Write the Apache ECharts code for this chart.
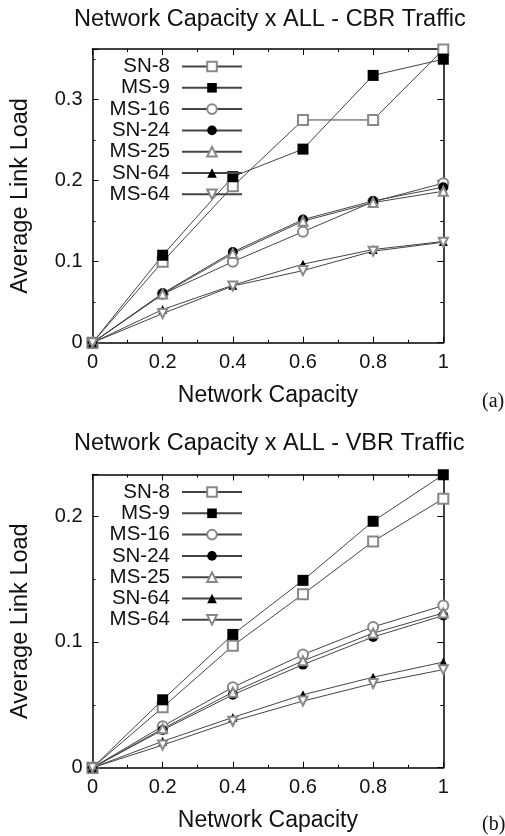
<!DOCTYPE html>
<html>
<head>
<meta charset="utf-8">
<script src="https://cdn.jsdelivr.net/npm/echarts@6/dist/echarts.min.js"></script>
<style>
  html, body { margin: 0; padding: 0; background: #fff; }
  #chart { width: 505px; height: 836px; }
</style>
</head>
<body>
<div id="chart"></div>
<script>
// network capacity (x)
const capacity = [0, 0.2, 0.4, 0.6, 0.8, 1]
const seriesNames = ['SN-8', 'MS-9', 'MS-16', 'SN-24', 'MS-25', 'SN-64', 'MS-64']

// (a) CBR traffic, average link load
const cbrSN8 = [0, 0.100, 0.193, 0.275, 0.275, 0.362]
const cbrMS9 = [0, 0.108, 0.205, 0.239, 0.330, 0.350]
const cbrMS16 = [0, 0.060, 0.100, 0.137, 0.174, 0.197]
const cbrSN24 = [0, 0.061, 0.112, 0.152, 0.175, 0.192]
const cbrMS25 = [0, 0.060, 0.110, 0.150, 0.173, 0.187]
const cbrSN64 = [0, 0.041, 0.071, 0.097, 0.115, 0.125]
const cbrMS64 = [0, 0.036, 0.070, 0.089, 0.113, 0.124]

// (b) VBR traffic, average link load
const vbrSN8 = [0, 0.048, 0.097, 0.138, 0.180, 0.214]
const vbrMS9 = [0, 0.054, 0.106, 0.149, 0.196, 0.233]
const vbrMS16 = [0, 0.033, 0.064, 0.090, 0.112, 0.129]
const vbrSN24 = [0, 0.030, 0.058, 0.082, 0.104, 0.121]
const vbrMS25 = [0, 0.031, 0.060, 0.085, 0.107, 0.123]
const vbrSN64 = [0, 0.021, 0.040, 0.058, 0.072, 0.084]
const vbrMS64 = [0, 0.018, 0.037, 0.053, 0.067, 0.078]

const cbrData = [cbrSN8, cbrMS9, cbrMS16, cbrSN24, cbrMS25, cbrSN64, cbrMS64]
const vbrData = [vbrSN8, vbrMS9, vbrMS16, vbrSN24, vbrMS25, vbrSN64, vbrMS64]

const FONT = 'Liberation Sans, Arial, sans-serif'
const marks = [
  { symbol: 'emptyRect', size: 10, color: '#888', rotate: 0 },
  { symbol: 'rect', size: 11, color: '#000', rotate: 0 },
  { symbol: 'emptyCircle', size: 10, color: '#888', rotate: 0 },
  { symbol: 'circle', size: 10, color: '#000', rotate: 0 },
  { symbol: 'emptyTriangle', size: 9, color: '#888', rotate: 0 },
  { symbol: 'triangle', size: 9, color: '#000', rotate: 0 },
  { symbol: 'emptyTriangle', size: 9, color: '#888', rotate: 180 }
]

function makeSeries (data, gridIdx) {
  return data.map((arr, k) => ({
    name: seriesNames[k],
    type: 'line',
    xAxisIndex: gridIdx * 2,
    yAxisIndex: gridIdx * 2,
    data: capacity.map((x, i) => [x, arr[i]]),
    symbol: marks[k].symbol,
    symbolSize: marks[k].size,
    symbolRotate: marks[k].rotate,
    showAllSymbol: true,
    clip: false,
    animation: false,
    lineStyle: { color: '#444', width: 1 },
    itemStyle: { color: marks[k].color, borderWidth: 1 }
  }))
}

function xAxisOf (gridIdx, mirror) {
  return {
    type: 'value',
    gridIndex: gridIdx,
    position: mirror ? 'top' : 'bottom',
    min: 0,
    max: 1,
    interval: 0.2,
    name: mirror ? '' : 'Network Capacity',
    nameLocation: 'middle',
    nameGap: 41,
    nameTextStyle: { fontFamily: FONT, fontSize: 23, color: '#111' },
    axisLine: { show: true, onZero: false, lineStyle: { color: '#000', width: 1.5 } },
    axisTick: { show: true, inside: true, length: 6, lineStyle: { color: '#000' } },
    minorTick: { show: true, splitNumber: 2, length: 3, lineStyle: { color: '#000' } },
    splitLine: { show: false },
    axisLabel: {
      show: !mirror,
      fontFamily: FONT,
      fontSize: 20,
      color: '#111',
      margin: 10
    }
  }
}

function yAxisOf (gridIdx, mirror, max) {
  return {
    type: 'value',
    gridIndex: gridIdx,
    position: mirror ? 'right' : 'left',
    min: 0,
    max: max,
    interval: 0.1,
    name: mirror ? '' : 'Average Link Load',
    nameLocation: 'middle',
    nameGap: 60,
    nameTextStyle: { fontFamily: FONT, fontSize: 23.5, color: '#111' },
    axisLine: { show: true, onZero: false, lineStyle: { color: '#000', width: 1.5 } },
    axisTick: { show: true, inside: true, length: 6, lineStyle: { color: '#000' } },
    minorTick: { show: true, splitNumber: 2, length: 3, lineStyle: { color: '#000' } },
    splitLine: { show: false },
    axisLabel: {
      show: !mirror,
      showMaxLabel: false,
      fontFamily: FONT,
      fontSize: 20,
      color: '#111',
      margin: 10
    }
  }
}

function legendOf (top) {
  return {
    orient: 'vertical',
    left: 104,
    top: top,
    padding: 0,
    align: 'right',
    itemWidth: 60,
    itemHeight: 12,
    itemGap: 0.3,
    data: seriesNames,
    selectedMode: false,
    textStyle: {
      fontFamily: FONT,
      fontSize: 20.5,
      color: '#111',
      width: 66,
      align: 'right',
      lineHeight: 16,
      padding: [0, 7, 0, 0]
    }
  }
}

const chart = echarts.init(document.getElementById('chart'))
chart.setOption({
  backgroundColor: '#fff',
  animation: false,
  title: [
    { text: 'Network Capacity x ALL - CBR Traffic', left: 69, top: 3, textStyle: { fontFamily: FONT, fontSize: 23.5, fontWeight: 'normal', color: '#111' } },
    { text: 'Network Capacity x ALL - VBR Traffic', left: 69, top: 427, textStyle: { fontFamily: FONT, fontSize: 23.5, fontWeight: 'normal', color: '#111' } },
    { text: '(a)', left: 477, top: 387, textStyle: { fontFamily: 'Liberation Serif, serif', fontSize: 20, fontWeight: 'normal', color: '#111' } },
    { text: '(b)', left: 477, top: 810, textStyle: { fontFamily: 'Liberation Serif, serif', fontSize: 20, fontWeight: 'normal', color: '#111' } }
  ],
  legend: [legendOf(56), legendOf(481.5)],
  grid: [
    { left: 92.5, right: 61.7, top: 49, height: 293.7 },
    { left: 92.5, right: 61.7, top: 474.5, height: 293.2 }
  ],
  xAxis: [xAxisOf(0, false), xAxisOf(0, true), xAxisOf(1, false), xAxisOf(1, true)],
  yAxis: [
    yAxisOf(0, false, 0.3626), yAxisOf(0, true, 0.3626),
    yAxisOf(1, false, 0.2332), yAxisOf(1, true, 0.2332)
  ],
  series: makeSeries(cbrData, 0).concat(makeSeries(vbrData, 1))
})
</script>
</body>
</html>
